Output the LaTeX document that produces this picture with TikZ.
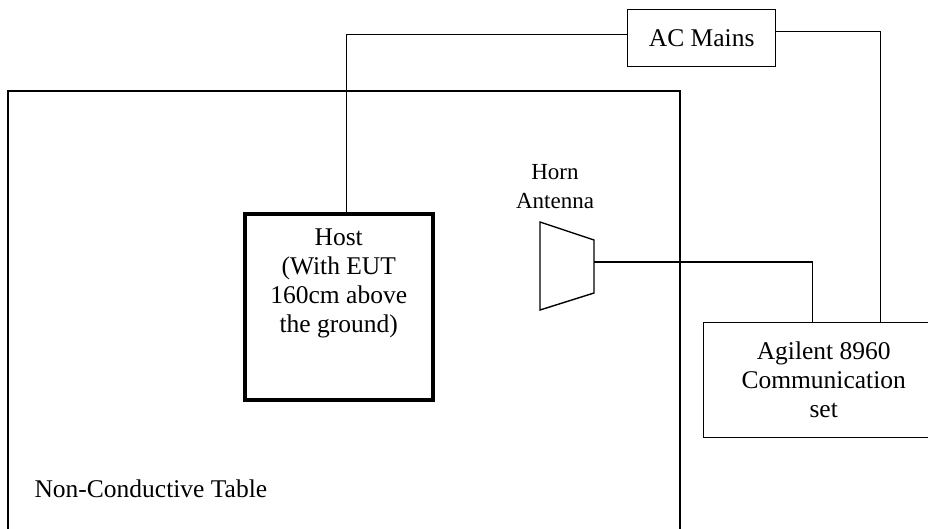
\documentclass[tikz,border=0pt]{standalone}
\usepackage{fontspec}
\setmainfont{Liberation Serif}
\usetikzlibrary{positioning, calc}

\tikzset{
  unitbox/.style={draw, line width=1.4pt, inner sep=0pt},
  wire/.style={line width=1.4pt},
  bigtext/.style={font=\fontsize{25.5}{29}\selectfont, align=center},
  smalltext/.style={font=\fontsize{23}{29}\selectfont, align=center}
}

\begin{document}
\begin{tikzpicture}[x=1pt, y=-1pt]
  \clip (0,0) rectangle (928,528);
  \useasboundingbox (0,0) rectangle (928,528);

  % table
  \draw[line width=2pt] (8,545) -- (8,91) -- (680,91) -- (680,545);
  \node[bigtext, anchor=west] (tablelabel) at (31,489) {Non-Conductive Table};

  % host
  \node[unitbox, line width=3.5pt, minimum width=188pt, minimum height=186pt, anchor=north west] (host) at (243,212) {};
  \node[bigtext, anchor=north] (hosttext) at ($(host.north)+(0,13)$) {Host\\(With EUT\\160cm above\\the ground)};

  % mains and tester
  \node[unitbox, bigtext, minimum width=148pt, minimum height=57pt, anchor=north west] (ac) at (627,9) {AC Mains};
  \node[unitbox, bigtext, minimum width=240pt, minimum height=115pt, anchor=north west] (agilent) at (703,322) {Agilent 8960\\Communication\\set};

  % horn antenna
  \draw[wire] (540,222) -- (594,240) -- (594,293) -- (540,310) -- cycle;
  \coordinate (feed) at (594,262);
  \node[smalltext] (hornlabel) at (555,187) {Horn\\Antenna};

  % cables
  \draw[wire] ([yshift=3.5pt]ac.west) -| ([xshift=8pt]host.north);
  \draw[wire] ([yshift=6.5pt]ac.east) -| ([xshift=57pt]agilent.north);
  \draw[wire] (feed) -| ([xshift=-11pt]agilent.north);
\end{tikzpicture}
\end{document}
